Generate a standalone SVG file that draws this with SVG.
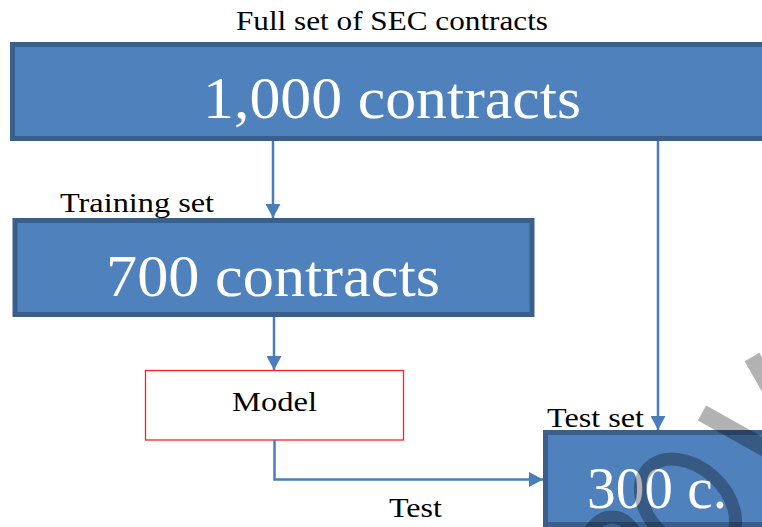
<svg xmlns="http://www.w3.org/2000/svg" width="762" height="527" viewBox="0 0 762 527">
  <style>
    .box { fill: #4F81BD; stroke: #3A5F8B; stroke-width: 5; }
    .big { font-family: "Liberation Serif", "DejaVu Serif", serif; font-size: 60px; fill: #FFFFFF; text-anchor: middle; }
    .lbl { font-family: "Liberation Serif", "DejaVu Serif", serif; font-size: 27px; fill: #000000; }
    .conn { fill: none; stroke: #4A7EBB; stroke-width: 2.5; }
    .wm { fill: none; stroke: #000000; stroke-opacity: 0.3; }
  </style>
  <defs>
    <marker id="arr" markerUnits="userSpaceOnUse" markerWidth="15" markerHeight="15" refX="14" refY="7.5" orient="auto">
      <path d="M0,0 L14,7.5 L0,15 Z" fill="#4A7EBB"/>
    </marker>
  </defs>
  <rect width="762" height="527" fill="#FFFFFF"/>

  <text class="lbl" x="392" y="30" text-anchor="middle" textLength="312" lengthAdjust="spacingAndGlyphs">Full set of SEC contracts</text>

  <g id="node-full">
    <rect class="box" x="12.5" y="44.5" width="800" height="94"/>
    <text class="big" x="392" y="118" textLength="378" lengthAdjust="spacingAndGlyphs">1,000 contracts</text>
  </g>

  <g id="node-train">
    <text class="lbl" x="60" y="212" textLength="154" lengthAdjust="spacingAndGlyphs">Training set</text>
    <rect class="box" x="15" y="220.5" width="517" height="94"/>
    <text class="big" x="273" y="296" textLength="334" lengthAdjust="spacingAndGlyphs">700 contracts</text>
  </g>

  <g id="node-model">
    <rect x="145.5" y="370.5" width="258" height="69.5" fill="#FFFFFF" stroke="#FF2020" stroke-width="1.3"/>
    <text class="lbl" x="274.5" y="411" text-anchor="middle" textLength="85" lengthAdjust="spacingAndGlyphs">Model</text>
  </g>

  <g id="node-test">
    <text class="lbl" x="547" y="427" textLength="97" lengthAdjust="spacingAndGlyphs">Test set</text>
    <rect class="box" x="545.5" y="432.5" width="300" height="92"/>
    <text class="big" x="657" y="508" textLength="140" lengthAdjust="spacingAndGlyphs">300 c.</text>
  </g>

  <g id="connectors">
    <line class="conn" x1="273" y1="141" x2="273" y2="218" marker-end="url(#arr)"/>
    <line class="conn" x1="274" y1="317" x2="274" y2="370" marker-end="url(#arr)"/>
    <line class="conn" x1="658" y1="141" x2="658" y2="430" marker-end="url(#arr)"/>
    <polyline class="conn" points="274.5,440 274.5,479.5 543,479.5" marker-end="url(#arr)"/>
    <text class="lbl" x="389" y="517" textLength="53" lengthAdjust="spacingAndGlyphs">Test</text>
  </g>

  <g id="watermark">
    <line class="wm" x1="702" y1="413" x2="790" y2="462" stroke-width="17"/>
    <line class="wm" x1="752" y1="357" x2="785" y2="415" stroke-width="17"/>
    <ellipse class="wm" cx="688" cy="505" rx="38" ry="54" transform="rotate(-48 688 505)" stroke-width="13"/>
    <ellipse class="wm" cx="612" cy="555" rx="28" ry="38" stroke-width="13"/>
  </g>
</svg>
